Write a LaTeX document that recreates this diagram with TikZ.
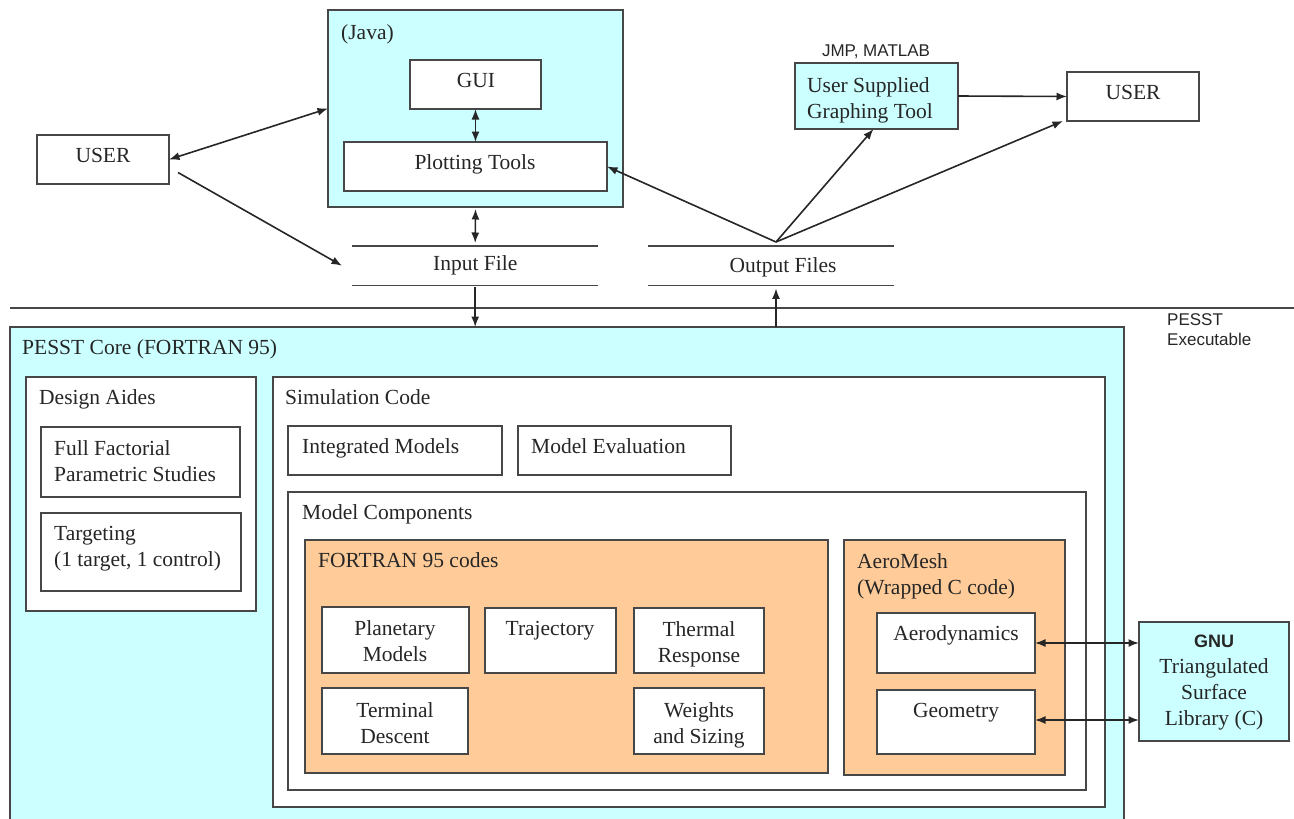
\documentclass[tikz,border=0pt]{standalone}
\usepackage{fontspec}
\setmainfont{Liberation Serif}
\newfontfamily\arialfont{Liberation Sans}
\usetikzlibrary{arrows.meta}
\definecolor{javacyan}{HTML}{CCFFFF}
\definecolor{codeorange}{HTML}{FFCC99}
\definecolor{edge}{HTML}{474747}
\definecolor{wire}{HTML}{262626}

\begin{document}
\begin{tikzpicture}[x=1pt,y=-1pt,
  boxframe/.style={draw=edge, line width=1.8pt, rectangle, inner sep=0pt, outer sep=0pt, anchor=north west},
  wbox/.style={boxframe, fill=white},
  cbox/.style={boxframe, fill=javacyan},
  obox/.style={boxframe, fill=codeorange},
  txt/.style={font=\fontsize{21.5}{26}\selectfont, inner sep=0pt, text=black!85},
  sans/.style={font=\arialfont\fontsize{17}{20}\selectfont, inner sep=0pt, text=black!85},
  arr/.style={draw=wire, line width=1.6pt, -{Latex[length=10.5pt,width=8pt]}},
  darr/.style={draw=wire, line width=1.6pt, {Latex[length=10.5pt,width=8pt]}-{Latex[length=10.5pt,width=8pt]}},
  fileline/.style={draw=edge, line width=1.8pt}
]
\useasboundingbox (0,0) rectangle (1294,819);

% ---------- upper part: GUI side ----------
\node[cbox, minimum width=295, minimum height=197] (java) at (328,10) {};
\node[txt, anchor=base west] (javaname) at (341,39) {(Java)};
\node[wbox, minimum width=131, minimum height=49] (gui) at (410,60) {};
\node[txt, anchor=base] (guitext) at (476,87) {GUI};
\node[wbox, minimum width=263, minimum height=49] (plot) at (344,142) {};
\node[txt, anchor=base] (plottext) at (475,169) {Plotting Tools};

\node[wbox, minimum width=132, minimum height=49] (userL) at (37,135) {};
\node[txt, anchor=base] (userLtext) at (103,162) {USER};

\node[sans, anchor=base] (jmp) at (876,56) {JMP, MATLAB};
\node[cbox, minimum width=163, minimum height=66] (graph) at (795,63) {};
\node[txt, anchor=north west, align=left] (graphtext) at (807,77) {User Supplied\\Graphing Tool};
\node[wbox, minimum width=132, minimum height=49] (userR) at (1067,72) {};
\node[txt, anchor=base] (userRtext) at (1133,99) {USER};

% ---------- data files ----------
\node[txt, minimum width=246, minimum height=39, anchor=north west] (infile) at (352,246) {Input File};
\draw[fileline] (infile.north west) -- (infile.north east) (infile.south west) -- (infile.south east);
\node[minimum width=246, minimum height=39, inner sep=0pt, anchor=north west] (outfile) at (648,246) {};
\node[txt, anchor=base] (outtext) at (783,272) {Output Files};
\draw[fileline] (outfile.north west) -- (outfile.north east) (outfile.south west) -- (outfile.south east);

% executable boundary
\draw[fileline] (10,308) -- (1294,308);
\node[sans, anchor=north west, align=left] (exelabel) at (1167,313) {PESST\\Executable};

% ---------- PESST core ----------
\node[boxframe, draw=none, fill=javacyan, minimum width=1114, minimum height=492] (core) at (10,327) {};
\draw[draw=edge, line width=1.8pt] (core.south west) -- (core.north west) -- (core.north east) -- (core.south east);
\node[txt, anchor=base west] (coretext) at (22,354) {PESST Core (FORTRAN 95)};

% design aides
\node[wbox, minimum width=230, minimum height=234] (design) at (26,377) {};
\node[txt, anchor=base west] (designtext) at (39,404) {Design Aides};
\node[wbox, minimum width=199, minimum height=70] (factorial) at (41,427) {};
\node[txt, anchor=north west, align=left] (factext) at (54,440) {Full Factorial\\Parametric Studies};
\node[wbox, minimum width=200, minimum height=78] (target) at (41,513) {};
\node[txt, anchor=north west, align=left] (targtext) at (54,526) {Targeting\\(1 target, 1 control)};

% simulation code
\node[wbox, minimum width=832, minimum height=430] (sim) at (273,377) {};
\node[txt, anchor=base west] (simtext) at (285,404) {Simulation Code};
\node[wbox, minimum width=214, minimum height=49] (integ) at (288,426) {};
\node[txt, anchor=base west] (integtext) at (302,453) {Integrated Models};
\node[wbox, minimum width=213, minimum height=49] (evalbox) at (518,426) {};
\node[txt, anchor=base west] (evaltext) at (531,453) {Model Evaluation};

\node[wbox, minimum width=798, minimum height=298] (comp) at (288,492) {};
\node[txt, anchor=base west] (comptext) at (302,519) {Model Components};

% FORTRAN 95 models
\node[obox, minimum width=523, minimum height=233] (fortran) at (305,540) {};
\node[txt, anchor=base west] (fortext) at (318,567) {FORTRAN 95 codes};
\node[wbox, minimum width=147, minimum height=66] (planet) at (322,607) {};
\node[txt, anchor=north, align=center] (planettext) at (395,620) {Planetary\\Models};
\node[wbox, minimum width=131, minimum height=65] (traj) at (485,608) {};
\node[txt, anchor=base] (trajtext) at (550,635) {Trajectory};
\node[wbox, minimum width=130, minimum height=65] (thermal) at (634,608) {};
\node[txt, anchor=north, align=center] (thermtext) at (699,621) {Thermal\\Response};
\node[wbox, minimum width=146, minimum height=66] (terminal) at (322,688) {};
\node[txt, anchor=north, align=center] (termtext) at (395,702) {Terminal\\Descent};
\node[wbox, minimum width=130, minimum height=66] (weights) at (634,688) {};
\node[txt, anchor=north, align=center] (weighttext) at (699,702) {Weights\\and Sizing};

% AeroMesh
\node[obox, minimum width=221, minimum height=235] (aero) at (844,540) {};
\node[txt, anchor=north west, align=left] (aerotext) at (857,553) {AeroMesh\\(Wrapped C code)};
\node[wbox, minimum width=158, minimum height=60] (aerodyn) at (877,613) {};
\node[txt, anchor=base] (aerodyntext) at (956,640) {Aerodynamics};
\node[wbox, minimum width=158, minimum height=64] (geom) at (877,690) {};
\node[txt, anchor=base] (geomtext) at (956,717) {Geometry};

% external library
\node[cbox, minimum width=150, minimum height=119] (gnu) at (1139,622) {};
\node[txt, anchor=north, align=center] (gnutext) at (1214,635)
  {{\arialfont\bfseries\fontsize{18}{25}\selectfont GNU}\\Triangulated\\Surface\\Library (C)};

% ---------- connectors ----------
\coordinate (apex) at (776,242);
\draw[darr] (userL.east) -- (java.west);
\draw[arr] ([xshift=9pt,yshift=-13pt]userL.east) -- ([xshift=-10pt]infile.west);
\draw[darr] (gui.south) -- (plot.north);
\draw[darr] ([yshift=-2pt]java.south) -- ([yshift=3pt]infile.north);
\draw[arr] ([yshift=-2pt]infile.south) -- (infile.south |- core.north);
\draw[arr] (apex |- core.north) -- ([yshift=-3pt]apex |- outfile.south);
\draw[arr] (apex) -- (plot.east);
\draw[arr] (apex) -- ([xshift=-3pt]graph.south);
\draw[arr] (apex) -- ([xshift=-4pt]userR.south west);
\draw[arr] (graph.east) -- (userR.west);
\draw[darr] (aerodyn.east) -- (aerodyn.east -| gnu.west);
\draw[darr] ([yshift=2pt]geom.east) -- ([yshift=2pt]geom.east -| gnu.west);
\end{tikzpicture}
\end{document}
